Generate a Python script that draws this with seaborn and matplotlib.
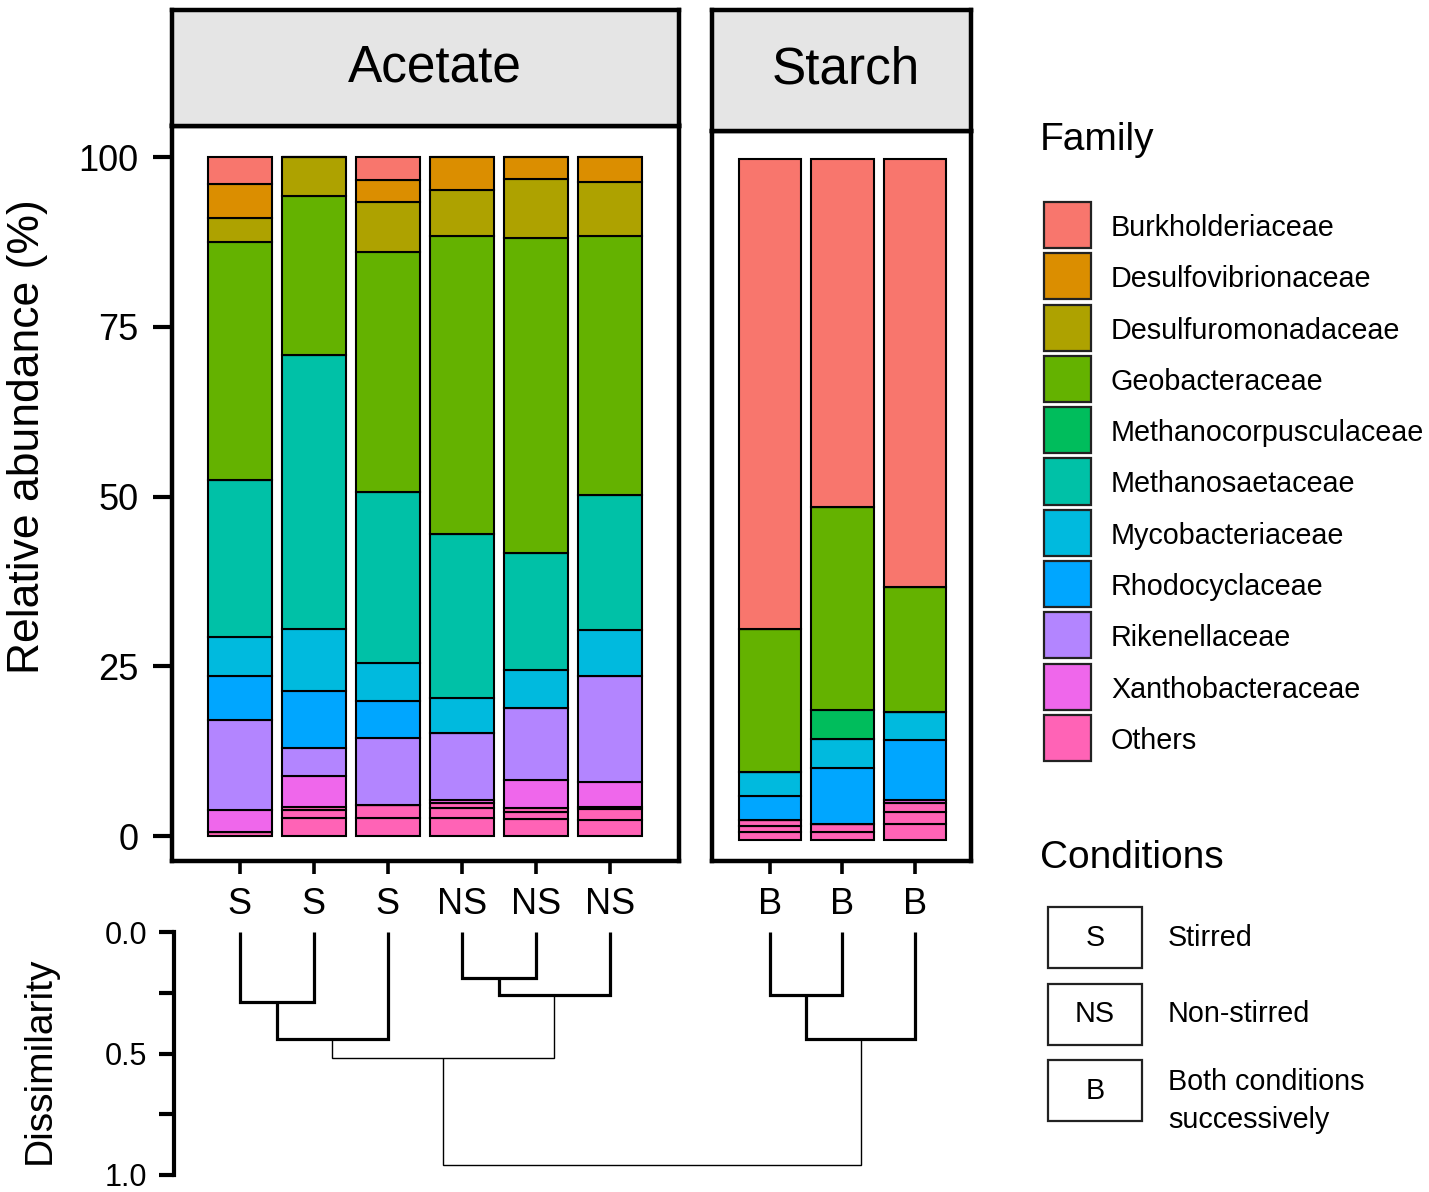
import numpy as np
import pandas as pd
import matplotlib
matplotlib.use('Agg')
import matplotlib.pyplot as plt
from matplotlib.patches import Rectangle
import seaborn as sb

# Families and ggplot-style hue colours
families = ['Burkholderiaceae', 'Desulfovibrionaceae', 'Desulfuromonadaceae', 'Geobacteraceae',
            'Methanocorpusculaceae', 'Methanosaetaceae', 'Mycobacteriaceae', 'Rhodocyclaceae',
            'Rikenellaceae', 'Xanthobacteraceae', 'Others']
colors = ['#F8766D', '#DB8E00', '#AEA200', '#64B200', '#00BD5C', '#00C1A7',
          '#00BADE', '#00A6FF', '#B385FF', '#EF67EB', '#FF63B6']

# Samples (left to right)
substrate = ['Acetate'] * 6 + ['Starch'] * 3
conditions = ['S', 'S', 'S', 'NS', 'NS', 'NS', 'B', 'B', 'B']
position = [0, 1, 2, 3, 4, 5, 0, 1, 2]

# Relative abundance (%) per family, one value per sample
burkholderiaceae = [4.0, 0, 3.4, 0, 0, 0, 69.0, 51.1, 62.8]
desulfovibrionaceae = [5.0, 0, 3.2, 4.9, 3.2, 3.7, 0, 0, 0]
desulfuromonadaceae = [3.5, 5.7, 7.4, 6.8, 8.7, 7.9, 0, 0, 0]
geobacteraceae = [35.1, 23.5, 35.3, 43.8, 46.4, 38.2, 21.0, 29.8, 18.4]
methanocorpusculaceae = [0, 0, 0, 0, 0, 0, 0, 4.3, 0]
methanosaetaceae = [23.1, 40.3, 25.2, 24.1, 17.3, 19.9, 0, 0, 0]
mycobacteriaceae = [5.7, 9.1, 5.6, 5.2, 5.5, 6.7, 3.5, 4.2, 4.1]
rhodocyclaceae = [6.5, 8.4, 5.5, 0, 0, 0, 3.6, 8.25, 8.8]
rikenellaceae = [13.3, 4.2, 9.9, 9.9, 10.7, 15.7, 0, 0, 0]
xanthobacteraceae = [3.2, 4.5, 0, 0.4, 4.0, 3.6, 0, 0, 0.4]
# "Others" pools several minor families, stacked as separate blocks
others_1 = [0, 0.5, 0, 0.7, 0.7, 0.3, 0.8, 0, 1.4]
others_2 = [0, 1.15, 1.85, 1.5, 1.0, 1.6, 0.9, 1.15, 1.8]
others_3 = [0.6, 2.65, 2.65, 2.7, 2.5, 2.4, 1.2, 1.2, 2.3]

# Dendrogram: (child a, child b, dissimilarity); leaves 0-8, new nodes from 9
merges = [(0, 1, 0.29), (9, 2, 0.44), (3, 4, 0.19), (11, 5, 0.26),
          (10, 12, 0.52), (6, 7, 0.26), (14, 8, 0.44), (13, 15, 0.96)]

cond_keys = ['S', 'NS', 'B']
cond_text = ['Stirred', 'Non-stirred', 'Both conditions\nsuccessively']

# Long table for seaborn
series = {
    'Burkholderiaceae': burkholderiaceae, 'Desulfovibrionaceae': desulfovibrionaceae,
    'Desulfuromonadaceae': desulfuromonadaceae, 'Geobacteraceae': geobacteraceae,
    'Methanocorpusculaceae': methanocorpusculaceae, 'Methanosaetaceae': methanosaetaceae,
    'Mycobacteriaceae': mycobacteriaceae, 'Rhodocyclaceae': rhodocyclaceae,
    'Rikenellaceae': rikenellaceae, 'Xanthobacteraceae': xanthobacteraceae,
    'Others_1': others_1, 'Others_2': others_2, 'Others_3': others_3,
}
rows = []
for fam, vals in series.items():
    for i, v in enumerate(vals):
        rows.append({'substrate': substrate[i], 'pos': position[i], 'family': fam, 'value': v})
df = pd.DataFrame(rows)

hue_order = list(series.keys())
pal = dict(zip(families, colors))
for k in ['Others_1', 'Others_2', 'Others_3']:
    pal[k] = pal['Others']

sb.set_style('white')
plt.rcParams['font.family'] = ['Liberation Sans', 'DejaVu Sans']
plt.rcParams['text.color'] = 'black'
plt.rcParams['axes.labelcolor'] = 'black'
plt.rcParams['xtick.color'] = 'black'
plt.rcParams['ytick.color'] = 'black'

W, H = 1429, 1192
fig = plt.figure(figsize=(W / 100, H / 100), dpi=100)


def rect(l, t, r, b):
    return [l / W, 1 - b / H, (r - l) / W, (b - t) / H]


BORDER = 3.2

# panels: (substrate, left, strip top, panel top, right, bottom, xlim, ylim, strip text shift)
panels = [('Acetate', 171.5, 10, 125.5, 678.5, 860.5, (-0.92, 5.93), (-3.6, 104.64), 10),
          ('Starch', 711.5, 10, 130.5, 970.5, 860.5, (-0.81, 2.77), (-3.0, 104.2), 5)]

bar_axes = []
for name, l, st, pt, r, b, xl, yl, shift in panels:
    ax = fig.add_axes(rect(l, pt, r, b))
    sub = df[df['substrate'] == name]
    sb.histplot(data=sub, x='pos', weights='value', hue='family', hue_order=hue_order,
                palette=pal, multiple='stack', discrete=True, shrink=0.865,
                edgecolor='black', linewidth=1.5, alpha=1, legend=False, ax=ax)
    ax.set_xlim(*xl)
    ax.set_ylim(*yl)
    n = sub['pos'].nunique()
    ax.set_xticks(range(n))
    ax.set_xticklabels([c for s, c in zip(substrate, conditions) if s == name], fontsize=26)
    ax.tick_params(axis='x', bottom=True, length=9, width=2.6, pad=10, color='black')
    if name == 'Acetate':
        ax.set_yticks([0, 25, 50, 75, 100])
        ax.set_yticklabels(['0', '25', '50', '75', '100'], fontsize=26)
        ax.tick_params(axis='y', left=True, length=14, width=3, pad=10, color='black')
    else:
        ax.set_yticks([])
    ax.set_xlabel('')
    ax.set_ylabel('')
    for sp in ax.spines.values():
        sp.set_linewidth(BORDER)
        sp.set_color('black')
    bar_axes.append(ax)

    # facet strip
    sx = fig.add_axes(rect(l, st, r, pt))
    sx.set_facecolor('#E5E5E5')
    sx.set_xticks([])
    sx.set_yticks([])
    for sp in sx.spines.values():
        sp.set_linewidth(BORDER)
        sp.set_color('black')
    sx.text(0.5 + shift / (r - l), 0.5, name, ha='center', va='center', fontsize=37,
            transform=sx.transAxes)

fig.text(28 / W, 1 - 437 / H, 'Relative abundance (%)', rotation=90,
         ha='center', va='center', fontsize=32)

# Dendrogram aligned on the bar centres
leaf_x = []
for name, ax in zip(['Acetate', 'Starch'], bar_axes):
    for s, p in zip(substrate, position):
        if s == name:
            leaf_x.append(ax.transData.transform((p, 0))[0])

d_left, d_right = 174, 1000
axd = fig.add_axes(rect(d_left, 932, d_right, 1175))
axd.set_xlim(d_left, d_right)
axd.set_ylim(1.0, 0.0)
node_x = list(leaf_x)
node_h = [0.0] * len(leaf_x)
for a, b, h in merges:
    lw = 2.3 if h < 0.5 else 1.0
    axd.plot([node_x[a], node_x[a], node_x[b], node_x[b]],
             [node_h[a], h, h, node_h[b]], color='black', lw=lw,
             solid_joinstyle='miter', solid_capstyle='butt', clip_on=False)
    node_x.append((node_x[a] + node_x[b]) / 2)
    node_h.append(h)

axd.set_facecolor('none')
for side in ['top', 'right', 'bottom']:
    axd.spines[side].set_visible(False)
axd.spines['left'].set_linewidth(3)
axd.spines['left'].set_color('black')
axd.set_xticks([])
axd.set_yticks([0, 0.25, 0.5, 0.75, 1.0])
axd.set_yticklabels(['0.0', '', '0.5', '', '1.0'], fontsize=22)
axd.tick_params(axis='y', left=True, length=11, width=3, pad=8, color='black')
fig.text(40 / W, 1 - 1060 / H, 'Dissimilarity', rotation=90,
         ha='center', va='center', fontsize=28)

# Family legend
fig.text(1040 / W, 1 - 140 / H, 'Family', ha='left', va='center', fontsize=28)
for i, (fam, col) in enumerate(zip(families, colors)):
    top = 202 + i * 51.3
    fig.add_artist(Rectangle((1044 / W, 1 - (top + 46) / H), 47 / W, 46 / H,
                             facecolor=col, edgecolor='#222222', lw=1.6,
                             transform=fig.transFigure))
    fig.text(1111 / W, 1 - (top + 26) / H, fam, ha='left', va='center', fontsize=20.7)

# Conditions legend
fig.text(1040 / W, 1 - 858 / H, 'Conditions', ha='left', va='center', fontsize=28)
for i, (key, txt) in enumerate(zip(cond_keys, cond_text)):
    top = 907 + i * 76.5
    fig.add_artist(Rectangle((1048 / W, 1 - (top + 61) / H), 94 / W, 61 / H,
                             facecolor='white', edgecolor='#222222', lw=1.6,
                             transform=fig.transFigure))
    fig.text(1095 / W, 1 - (top + 31) / H, key, ha='center', va='center', fontsize=20.7)
    if '\n' in txt:
        fig.text(1168 / W, 1 - (top + 8) / H, txt, ha='left', va='top', fontsize=20.7,
                 linespacing=1.45)
    else:
        fig.text(1168 / W, 1 - (top + 31) / H, txt, ha='left', va='center', fontsize=20.7)

fig.savefig('out.png', dpi=100)
